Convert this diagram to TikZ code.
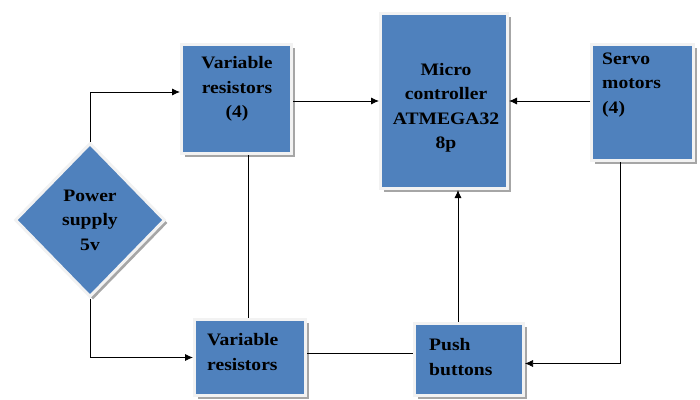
\documentclass[tikz,border=0pt]{standalone}
\usepackage{fontspec}
\setmainfont{Liberation Serif}
\newfontfamily\boxfont[FakeStretch=1.12]{Liberation Serif}
\usetikzlibrary{shapes.geometric,arrows.meta,shadows}
\definecolor{boxblue}{HTML}{4F81BD}
\definecolor{framecol}{HTML}{F2F2F2}
\definecolor{shadecol}{HTML}{A6A6A6}
\begin{document}
\begin{tikzpicture}[x=1pt,y=-1pt,
  blk/.style={rectangle, fill=boxblue, draw=framecol, line width=3pt, inner sep=0pt,
    drop shadow={shadow xshift=3pt, shadow yshift=-3pt, fill=shadecol, opacity=1}},
  dia/.style={diamond, fill=boxblue, draw=framecol, line width=3pt, inner sep=0pt,
    drop shadow={shadow xshift=3pt, shadow yshift=-3pt, fill=shadecol, opacity=1}},
  lbl/.style={font=\boxfont\bfseries\fontsize{17.5}{24.5}\selectfont, inner sep=0pt},
  conn/.style={line width=0.8pt, black},
  arr/.style={conn, -{Latex[length=8pt,width=7pt]}}]
\useasboundingbox (0,0) rectangle (700,399);
% boxes
\node[blk, minimum width=110pt, minimum height=109pt] (vr1) at (236.5,99) {};
\node[blk, minimum width=127pt, minimum height=175pt] (mc) at (444,101) {};
\node[blk, minimum width=102pt, minimum height=116pt] (sv) at (642.5,102.5) {};
\node[blk, minimum width=111pt, minimum height=76pt] (vr2) at (250,357.5) {};
\node[blk, minimum width=109pt, minimum height=72pt] (pb) at (469,359.5) {};
\node[dia, minimum width=150pt, minimum height=154pt, lbl, align=center] (ps) at (90,220)
  {Power\\supply\\5v};
% texts
\node[lbl, align=center] (vr1t) at (237,89) {Variable\\resistors\\(4)};
\node[lbl, align=center] (mct) at (446,108) {Micro\\controller\\ATMEGA32\\8p};
\node[lbl, align=left, anchor=west] (svt) at (602,85) {Servo\\motors\\(4)};
\node[lbl, align=left, anchor=west] (vr2t) at (207,352) {Variable\\resistors};
\node[lbl, align=left, anchor=west] (pbt) at (429,357) {Push\\buttons};
% connectors
\draw[arr] (ps.north) |- ([yshift=7pt]vr1.west);
\draw[arr] (ps.south) |- (vr2.west);
\draw[arr] (vr1.east |- mc.west) -- (mc.west);
\draw[arr] (sv.west |- mc.east) -- (mc.east);
\draw[conn] ([xshift=11.5pt]vr1.south) -- ([xshift=11.5pt]vr1.south |- vr2.north);
\draw[conn] ([yshift=4.5pt]vr2.east) -- ([yshift=4.5pt]vr2.east -| pb.west);
\draw[arr] ([xshift=-11pt]pb.north) -- ([xshift=-11pt]pb.north |- mc.south);
\draw[arr, line width=0.6pt] ([xshift=-22.5pt]sv.south) |- ([yshift=-4pt]pb.east);
\end{tikzpicture}
\end{document}
